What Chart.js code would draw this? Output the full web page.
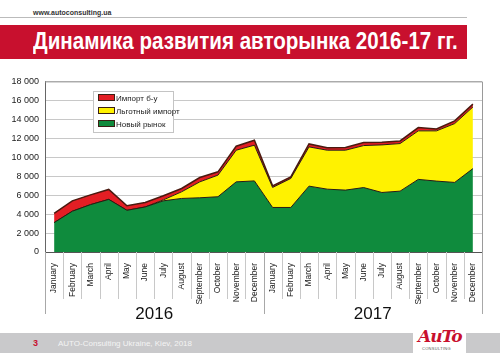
<!DOCTYPE html>
<html>
<head>
<meta charset="utf-8">
<script src="https://cdn.jsdelivr.net/npm/chart.js@4/dist/chart.umd.min.js"></script>
<style>
  body { margin: 0; width: 500px; height: 353px; background: #fff; position: relative; overflow: hidden; font-family: "Liberation Sans", Arial, sans-serif; }
  #url { position: absolute; left: 33px; top: 9px; font-size: 7px; font-weight: bold; color: #333; }
  #urlLine { position: absolute; left: 0; top: 17px; width: 467px; height: 1px; background: #bbb; }
  #band { position: absolute; left: 0; top: 25px; width: 467px; height: 34px; background: #c8102e; }
  #title { position: absolute; left: 33px; top: 27px; font-family: "Liberation Sans Narrow", "Liberation Sans", Arial, sans-serif; font-weight: bold; font-size: 24px; color: #fff; white-space: nowrap; transform-origin: 0 0; }
  #chartBox { position: absolute; left: 0; top: 70px; width: 490px; height: 250px; }
  #legend { position: absolute; left: 93px; top: 91px; width: 81px; height: 42px; background: #fff; border: 1px solid #c4c4c4; box-sizing: border-box; font-size: 8px; color: #222; }
  .item { position: absolute; left: 4px; height: 10px; line-height: 10px; white-space: nowrap; }
  .sw { display: inline-block; width: 15px; height: 5px; border: 1px solid #3a1f14; vertical-align: middle; margin-right: 1px; margin-top: -2px; }
  #footer { position: absolute; left: 0; top: 333px; width: 500px; height: 20px; background: #c9c9cb; }
  #pg { position: absolute; left: 33px; top: 338px; font-size: 9px; font-weight: bold; color: #c8102e; }
  #ft { position: absolute; left: 58px; top: 339px; font-size: 8px; color: #f4f4f4; }
  #logo { position: absolute; left: 413px; top: 327px; width: 53px; height: 26px; background: #fff; }
  #logo1 { position: absolute; left: 418px; top: 326px; font-size: 17px; font-style: italic; font-weight: bold; color: #c8102e; font-family: "DejaVu Serif", serif; letter-spacing: -1px; }
  #logo2 { position: absolute; left: 422px; top: 346px; font-size: 4px; color: #555; letter-spacing: 0.3px; }
</style>
</head>
<body>
<div id="url">www.autoconsulting.ua</div>
<div id="urlLine"></div>
<div id="band"></div>
<div id="title">Динамика развития авторынка 2016-17 гг.</div>
<div id="chartBox"><canvas id="chart" width="490" height="250"></canvas></div>
<div id="legend">
  <div class="item" style="top:2px"><span class="sw" style="background:#e31e24"></span>Импорт б-у</div>
  <div class="item" style="top:15px"><span class="sw" style="background:#fff200"></span>Льготный импорт</div>
  <div class="item" style="top:28px"><span class="sw" style="background:#0f8b3d"></span>Новый рынок</div>
</div>
<div id="footer"></div>
<div id="pg">3</div>
<div id="ft">AUTO-Consulting Ukraine, Kiev, 2018</div>
<div id="logo"></div>
<div id="logo1">AuTo</div>
<div id="logo2">CONSULTING</div>
<script>
// months for both years
var months = ['January', 'February', 'March', 'April', 'May', 'June', 'July', 'August', 'September', 'October', 'November', 'December',
              'January', 'February', 'March', 'April', 'May', 'June', 'July', 'August', 'September', 'October', 'November', 'December'];
var years = ['2016', '2017'];

// new cars market
var newMarket = [3100, 4300, 5000, 5550, 4400, 4750, 5400, 5650, 5720, 5830, 7400, 7500,
                 4700, 4700, 6950, 6630, 6530, 6800, 6280, 6420, 7660, 7480, 7340, 8800];
// preferential import
var prefImport = [0, 0, 0, 0, 0, 0, 100, 700, 1680, 2280, 3340, 3770,
                  2110, 3060, 4140, 4110, 4210, 4430, 5020, 5020, 5120, 5300, 6210, 6500];
// used cars import
var usedImport = [970, 1100, 1030, 1050, 480, 480, 430, 350, 460, 350, 420, 520,
                  170, 170, 310, 260, 280, 330, 280, 280, 350, 200, 280, 300];

var yTicks = [0, 2000, 4000, 6000, 8000, 10000, 12000, 14000, 16000, 18000];

// stretch title to the band width
var title = document.getElementById('title');
title.style.transform = 'scaleX(' + (425 / title.offsetWidth) + ')';

// draws the separators under the axis, year labels and plot border
var separators = {
    id: 'separators',
    afterDraw: function(chart) {
        var x = chart.scales.x;
        var area = chart.chartArea;
        var ctx = chart.ctx;
        var step = (x.right - x.left) / months.length;
        ctx.save();
        ctx.lineWidth = 1;
        // plot border top and right
        ctx.strokeStyle = '#9a9a9a';
        ctx.beginPath();
        ctx.moveTo(area.left, area.top + 0.5);
        ctx.lineTo(area.right + 0.5, area.top + 0.5);
        ctx.lineTo(area.right + 0.5, area.bottom);
        ctx.stroke();
        for (var i = 0; i <= months.length; i++) {
            var px = Math.round(x.left + i * step) + 0.5;
            var end = (i % 12 === 0) ? area.bottom + 62 : area.bottom + 47;
            ctx.strokeStyle = (i % 12 === 0) ? '#a8a8a8' : '#c8c8c8';
            ctx.beginPath();
            ctx.moveTo(px, area.bottom);
            ctx.lineTo(px, end);
            ctx.stroke();
        }
        ctx.fillStyle = '#111';
        ctx.font = '17px "Liberation Sans", Arial, sans-serif';
        ctx.textAlign = 'center';
        ctx.textBaseline = 'middle';
        years.forEach(function(yr, g) {
            ctx.fillText(yr, x.left + (6 + 12 * g) * step, area.bottom + 62);
        });
        ctx.restore();
    }
};

var ctx = document.getElementById('chart').getContext('2d');
var chart = new Chart(ctx, {
    type: 'line',
    data: {
        labels: months,
        datasets: [{
            label: 'Новый рынок',
            data: newMarket,
            backgroundColor: '#0f8b3d',
            borderColor: '#2a1a10',
            borderWidth: 1,
            fill: 'origin'
        }, {
            label: 'Льготный импорт',
            data: prefImport,
            backgroundColor: '#fff200',
            borderColor: '#2a1a10',
            borderWidth: 1,
            fill: '-1'
        }, {
            label: 'Импорт б-у',
            data: usedImport,
            backgroundColor: '#e31e24',
            borderColor: '#4a1a10',
            borderWidth: 1.5,
            fill: '-1'
        }]
    },
    options: {
        responsive: false,
        animation: false,
        devicePixelRatio: 1,
        layout: { padding: { top: 11, right: 8, left: 0, bottom: 0 } },
        elements: { point: { radius: 0 }, line: { tension: 0 } },
        plugins: { legend: { display: false }, tooltip: { enabled: false } },
        scales: {
            x: {
                offset: true,
                grid: { display: false },
                border: { color: '#555', width: 1 },
                ticks: {
                    autoSkip: false, maxRotation: 90, minRotation: 90, padding: 3,
                    color: '#222', font: { size: 8.5, family: '"Liberation Sans", Arial, sans-serif' }
                },
                afterFit: function(scale) { scale.height = 68; }
            },
            y: {
                stacked: true,
                min: 0,
                max: 18000,
                afterBuildTicks: function(scale) { scale.ticks = yTicks.map(function(v) { return { value: v }; }); },
                grid: { color: '#c8c8c8', drawTicks: false },
                border: { color: '#666', width: 1 },
                ticks: {
                    padding: 6,
                    color: '#222',
                    font: { size: 9, family: '"Liberation Sans", Arial, sans-serif' },
                    callback: function(v) { return v >= 1000 ? Math.floor(v / 1000) + ' ' + String(v % 1000).padStart(3, '0') : String(v); }
                },
                afterFit: function(scale) { scale.width = 45; }
            }
        }
    },
    plugins: [separators]
});
</script>
</body>
</html>
